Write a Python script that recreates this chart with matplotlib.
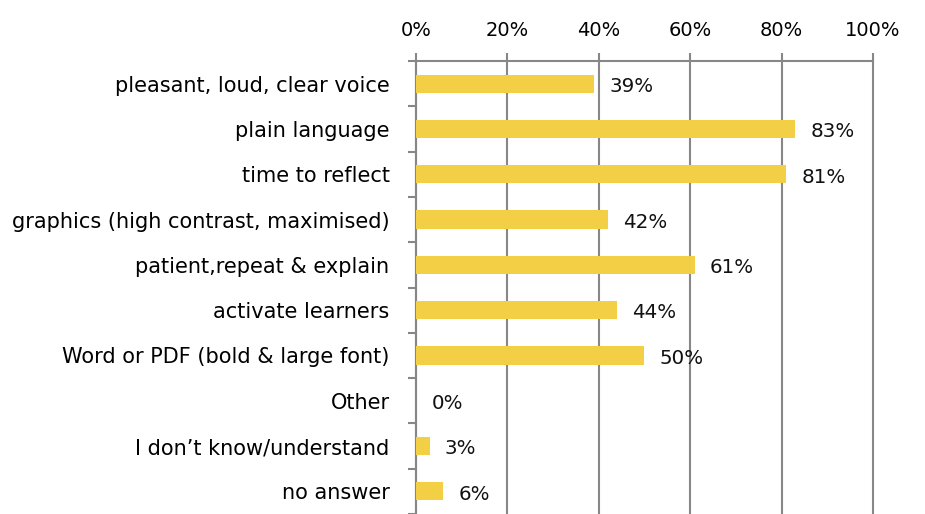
import matplotlib
matplotlib.use('Agg')
import matplotlib.pyplot as plt
import numpy as np

categories = ["pleasant, loud, clear voice", "plain language", "time to reflect",
              "graphics (high contrast, maximised)", "patient,repeat & explain",
              "activate learners", "Word or PDF (bold & large font)", "Other",
              "I don\u2019t know/understand", "no answer"]
values = [39, 83, 81, 42, 61, 44, 50, 0, 3, 6]
xticks = [0, 20, 40, 60, 80, 100]

plt.rcParams['font.family'] = ['DejaVu Sans']

grey = '#878787'
bar_color = '#F2CF45'

fig = plt.figure(figsize=(9.25, 5.14), dpi=100)
ax = fig.add_axes([0.4497, 0.0, 0.494, 0.8813])

y = np.arange(len(categories))
ax.barh(y, values, height=0.4, color=bar_color, zorder=3)
for yi, v in zip(y, values):
    ax.annotate(f"{v}%", (v, yi), xytext=(11, -2), textcoords='offset points',
                va='center', ha='left', fontsize=14.3, color='#111111')

ax.set_xlim(0, 100)
ax.set_ylim(len(categories) - 0.5, -0.5)
ax.set_xticks(xticks)
ax.set_xticklabels([f"{t}%" for t in xticks])
ax.xaxis.tick_top()
ax.tick_params(axis='x', length=6, width=1.5, color=grey, pad=9, labelsize=14)
ax.set_yticks(y)
ax.set_yticklabels(categories)
ax.tick_params(axis='y', which='major', length=0, pad=19, labelsize=15)
ax.set_yticks(np.arange(len(categories) + 1) - 0.5, minor=True)
ax.tick_params(axis='y', which='minor', length=6, width=1.5, color=grey)
ax.grid(axis='x', color=grey, linewidth=1.5, zorder=0)
for gl in ax.get_xgridlines():
    gl.set_clip_on(False)

for s in ['right', 'bottom']:
    ax.spines[s].set_visible(False)
for s in ['top', 'left']:
    ax.spines[s].set_color(grey)
    ax.spines[s].set_linewidth(1.5)

fig.savefig("out.png", dpi=100)
